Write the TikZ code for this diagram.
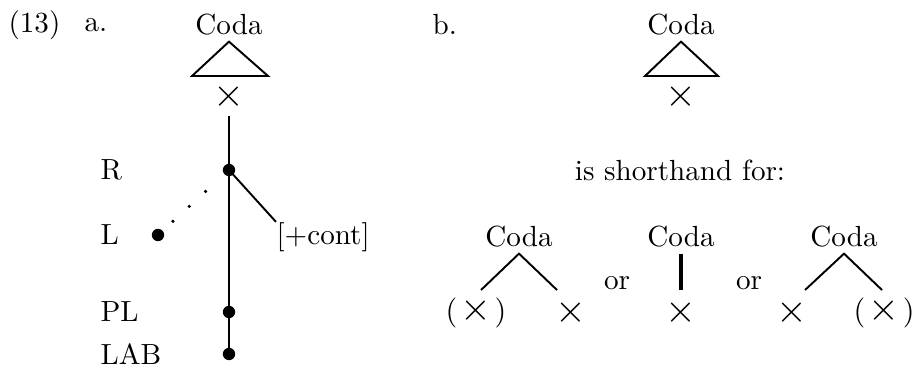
\documentclass[tikz,border=0pt]{standalone}
\usetikzlibrary{positioning}
\tikzset{
  punto/.style={circle, fill=black, inner sep=0pt, minimum size=4.5pt},
  puntito/.style={circle, fill=black, inner sep=0pt, minimum size=1.3pt},
  rama/.style={line width=0.7pt},
  ramagruesa/.style={line width=1.2pt},
  rotulo/.style={anchor=west, inner sep=0pt},
  equis/.style={inner sep=2pt},
}
\newcommand{\equis}{{\fontsize{13.5}{14}\selectfont$\times$}}
\newcommand{\equisp}{$(\mkern2mu${\fontsize{13.5}{14}\selectfont$\times$}$\mkern2mu)$}

\begin{document}
\begin{tikzpicture}[x=0.01278cm, y=-0.01278cm, font=\fontsize{10.6}{12}\selectfont]
  \useasboundingbox (0,0) rectangle (918,366);
  % (a)
  \node[rotulo] (num) at (8,25) {(13)};
  \node[rotulo] (ia) at (84,25) {a.};
  \node[inner sep=2pt] (codaA) at (229,25) {Coda};
  \coordinate (triAl) at (192,76);
  \coordinate (triAr) at (268,76);
  \draw[rama] (triAl) -- (codaA.south) -- (triAr) -- cycle;
  \node[equis] (xA) at (229,97) {\equis};
  \node[punto] (Rdot) at (229,170) {};
  \node[punto] (Ldot) at (158,235) {};
  \node[punto] (PLdot) at (229,312) {};
  \node[punto] (LABdot) at (229,354) {};
  \node[rotulo] (Rlab) at (100,170) {R};
  \node[rotulo] (Llab) at (100,235) {L};
  \node[rotulo] (PLlab) at (100,312) {PL};
  \node[rotulo] (LABlab) at (100,354) {LAB};
  \draw[rama] (xA.south) -- (Rdot.center) -- (PLdot.center) -- (LABdot.center);
  \path (Ldot.center) -- (Rdot.center)
    foreach \p in {0.21,0.44,0.67} {node[puntito, pos=\p] {}};
  \node[rotulo] (cont) at (276,237) {[+cont]};
  \draw[rama] (Rdot.center) -- (cont.north west);
  % (b)
  \node[rotulo] (ib) at (432,25) {b.};
  \node[inner sep=2pt] (codaB) at (681,25) {Coda};
  \coordinate (triBl) at (645,76);
  \coordinate (triBr) at (718,76);
  \draw[rama] (triBl) -- (codaB.south) -- (triBr) -- cycle;
  \node[equis] (xB) at (681,97) {\equis};
  \node (abrev) at (680,170) {is shorthand for:};
  % three trees
  \node[inner sep=2pt] (codaC) at (519,237) {Coda};
  \coordinate (patCi) at (481,290);
  \coordinate (patCd) at (557,290);
  \draw[rama] (patCi) -- (codaC.south) -- (patCd);
  \node[rotulo] (xCi) at (445,313) {\equisp};
  \node (xCd) at (571,313) {\equis};
  \node (o1) at (617,283) {or};
  \node[inner sep=2pt] (codaD) at (681,237) {Coda};
  \node (xD) at (681,313) {\equis};
  \draw[ramagruesa] (codaD.south) -- (xD.north);
  \node (o2) at (749,283) {or};
  \node[inner sep=2pt] (codaE) at (844,237) {Coda};
  \coordinate (patEi) at (805,290);
  \coordinate (patEd) at (882,290);
  \draw[rama] (patEi) -- (codaE.south) -- (patEd);
  \node (xEi) at (792,313) {\equis};
  \node[anchor=east, inner sep=0pt] (xEd) at (915,313) {\equisp};
\end{tikzpicture}
\end{document}
